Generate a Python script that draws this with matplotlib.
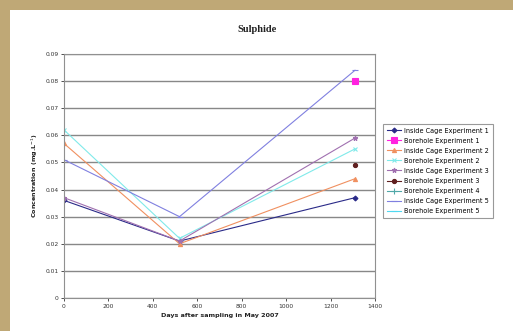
import matplotlib
matplotlib.use("Agg")
import matplotlib.pyplot as plt
import numpy as np
from matplotlib.patches import Rectangle

days = [0, 520, 1310]
series_names = ["Inside Cage Experiment 1", "Borehole Experiment 1", "Inside Cage Experiment 2",
                "Borehole Experiment 2", "Inside Cage Experiment 3", "Borehole Experiment 3",
                "Borehole Experiment 4", "Inside Cage Experiment 5", "Borehole Experiment 5"]
inside1 = [0.036, 0.021, 0.037]
bore1 = [np.nan, np.nan, 0.080]
inside2 = [0.057, 0.020, 0.044]
bore2 = [0.062, 0.022, 0.055]
inside3 = [0.037, 0.021, 0.059]
bore3 = [np.nan, np.nan, 0.049]
bore4 = [np.nan, np.nan, np.nan]
inside5 = [0.051, 0.030, 0.084]
bore5 = [np.nan, np.nan, np.nan]
values = [inside1, bore1, inside2, bore2, inside3, bore3, bore4, inside5, bore5]

colors = ["#2a2a88", "#ff22e0", "#f09060", "#80eaea", "#a070b0", "#602020", "#50a8a8", "#8080e0", "#50d8f0"]
markers = ["D", "s", "^", "x", "*", "o", "+", "_", "_"]
msizes = [2.5, 4, 3, 3, 3.5, 3, 4, 4, 4]

fig = plt.figure(figsize=(5.13, 3.31), dpi=100)
fig.patch.set_facecolor("white")
fig.patches.append(Rectangle((0, 0), 10/513, 1, transform=fig.transFigure,
                             facecolor="#bfa876", edgecolor="none", zorder=-10))
fig.patches.append(Rectangle((0, 1 - 10/331), 1, 10/331, transform=fig.transFigure,
                             facecolor="#bfa876", edgecolor="none", zorder=-10))

ax = fig.add_axes([64/513, 1 - 298/331, (375-64)/513, (298-54)/331])
ax.set_facecolor("white")
for name, vals, c, m, ms in zip(series_names, values, colors, markers, msizes):
    ax.plot(days, vals, color=c, marker=m, markersize=ms, linewidth=0.8, label=name,
            markeredgewidth=0.8)

ax.set_xlim(0, 1400)
ax.set_ylim(0, 0.09)
ax.set_xticks(np.arange(0, 1401, 200))
ax.set_yticks(np.arange(0, 0.0901, 0.01))
ax.set_yticklabels(["0"] + ["%.2f" % v for v in np.arange(0.01, 0.0901, 0.01)])
ax.grid(axis="y", color="#888888", linewidth=1.0)
ax.set_axisbelow(True)
for s in ax.spines.values():
    s.set_color("#909090")
    s.set_linewidth(0.8)
ax.tick_params(labelsize=4.3, colors="#333333", length=2, width=0.6, pad=2)
ax.set_xlabel("Days after sampling in May 2007", fontsize=4.6, fontweight="bold", color="#222222", labelpad=3)
ax.set_ylabel("Concentration (mg.L$^{-1}$)", fontsize=4.6, fontweight="bold", color="#222222", labelpad=4)

fig.text(257/513, 1 - 29/331, "Sulphide", fontsize=7.5, fontweight="bold", ha="center", va="center", color="#222222",
         family="Liberation Serif")

leg = ax.legend(loc="upper left", bbox_to_anchor=((383-64)/(375-64), (298-124)/(298-54)),
                fontsize=4.7, frameon=True, fancybox=False, edgecolor="#808080", handlelength=2.2,
                labelspacing=0.62, borderpad=0.55, handletextpad=0.5, borderaxespad=0)
leg.get_frame().set_linewidth(0.8)

fig.savefig("out.png", dpi=100, facecolor=fig.get_facecolor())
